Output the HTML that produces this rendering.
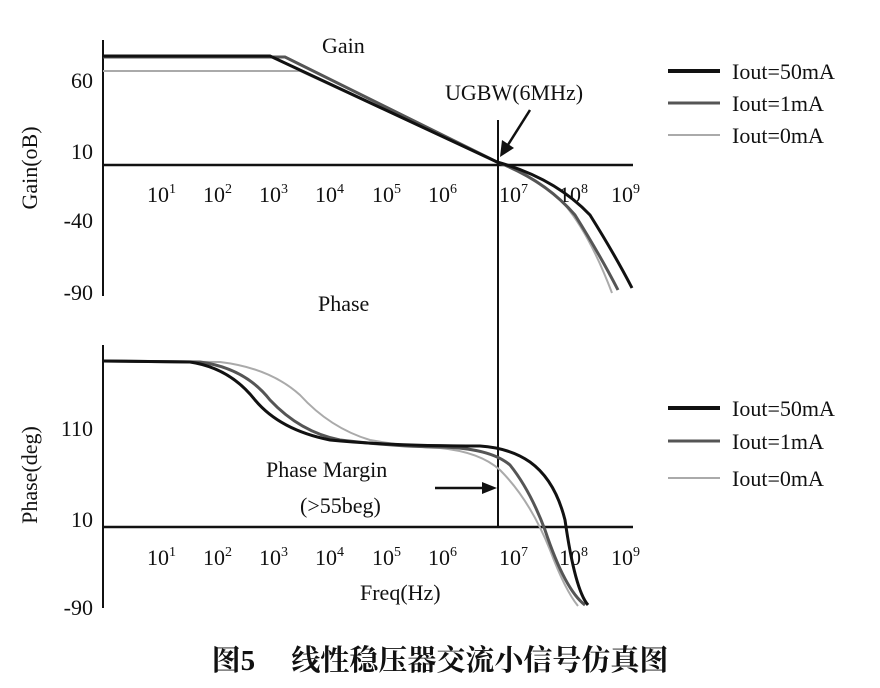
<!DOCTYPE html>
<html><head><meta charset="utf-8"><style>
html,body{margin:0;padding:0;background:#fff;}
svg{display:block;}
text{font-family:"Liberation Serif","Noto Serif CJK SC",serif;fill:#111;}
</style></head><body>
<svg width="880" height="688" viewBox="0 0 880 688" xmlns="http://www.w3.org/2000/svg">
<rect width="880" height="688" fill="#fff"/>
<line x1="103" y1="40" x2="103" y2="296" stroke="#111" stroke-width="2"/>
<line x1="103" y1="165" x2="633" y2="165" stroke="#111" stroke-width="2.5"/>
<g font-size="22" text-anchor="end">
<text x="93" y="88">60</text><text x="93" y="159">10</text><text x="93" y="228">-40</text><text x="93" y="300">-90</text>
</g>
<text transform="translate(37,168) rotate(-90)" font-size="22" text-anchor="middle">Gain(oB)</text>
<text x="322" y="53" font-size="22">Gain</text>
<g font-size="22">
<text x="147" y="202">10<tspan font-size="14" dy="-9">1</tspan></text>
<text x="203" y="202">10<tspan font-size="14" dy="-9">2</tspan></text>
<text x="259" y="202">10<tspan font-size="14" dy="-9">3</tspan></text>
<text x="315" y="202">10<tspan font-size="14" dy="-9">4</tspan></text>
<text x="372" y="202">10<tspan font-size="14" dy="-9">5</tspan></text>
<text x="428" y="202">10<tspan font-size="14" dy="-9">6</tspan></text>
<text x="499" y="202">10<tspan font-size="14" dy="-9">7</tspan></text>
<text x="559" y="202">10<tspan font-size="14" dy="-9">8</tspan></text>
<text x="611" y="202">10<tspan font-size="14" dy="-9">9</tspan></text>
</g>
<path d="M103,71 L300,71 L497,162 Q540,180 565,205 Q590,235 612,293" fill="none" stroke="#aaa" stroke-width="2"/>
<path d="M103,57 L285,57 L497,162 Q545,180 575,215 Q600,255 618,290" fill="none" stroke="#555" stroke-width="3"/>
<path d="M103,56 L270,56 L497,162 Q555,178 590,215 Q615,255 632,288" fill="none" stroke="#111" stroke-width="3"/>
<line x1="498" y1="120" x2="498" y2="526" stroke="#111" stroke-width="2"/>
<text x="445" y="100" font-size="22">UGBW(6MHz)</text>
<line x1="530" y1="110" x2="506" y2="148" stroke="#111" stroke-width="2.5"/>
<polygon points="500,157 502,140 514,148" fill="#111"/>
<line x1="668" y1="71" x2="720" y2="71" stroke="#111" stroke-width="4"/>
<text x="732" y="79" font-size="22">Iout=50mA</text>
<line x1="668" y1="103" x2="720" y2="103" stroke="#555" stroke-width="3"/>
<text x="732" y="111" font-size="22">Iout=1mA</text>
<line x1="668" y1="135" x2="720" y2="135" stroke="#aaa" stroke-width="2"/>
<text x="732" y="143" font-size="22">Iout=0mA</text>

<text x="318" y="311" font-size="22">Phase</text>
<line x1="103" y1="345" x2="103" y2="608" stroke="#111" stroke-width="2"/>
<line x1="103" y1="527" x2="633" y2="527" stroke="#111" stroke-width="2.5"/>
<g font-size="22" text-anchor="end">
<text x="93" y="436">110</text><text x="93" y="527">10</text><text x="93" y="615">-90</text>
</g>
<text transform="translate(37,475) rotate(-90)" font-size="22" text-anchor="middle">Phase(deg)</text>
<g font-size="22">
<text x="147" y="565">10<tspan font-size="14" dy="-9">1</tspan></text>
<text x="203" y="565">10<tspan font-size="14" dy="-9">2</tspan></text>
<text x="259" y="565">10<tspan font-size="14" dy="-9">3</tspan></text>
<text x="315" y="565">10<tspan font-size="14" dy="-9">4</tspan></text>
<text x="372" y="565">10<tspan font-size="14" dy="-9">5</tspan></text>
<text x="428" y="565">10<tspan font-size="14" dy="-9">6</tspan></text>
<text x="499" y="565">10<tspan font-size="14" dy="-9">7</tspan></text>
<text x="559" y="565">10<tspan font-size="14" dy="-9">8</tspan></text>
<text x="611" y="565">10<tspan font-size="14" dy="-9">9</tspan></text>
</g>
<text x="360" y="600" font-size="22">Freq(Hz)</text>
<path d="M103,361 L220,362 Q270,368 300,395 Q330,428 370,440 Q410,447 440,448 Q480,452 500,470 Q530,500 550,550 Q565,590 578,606" fill="none" stroke="#aaa" stroke-width="2"/>
<path d="M103,361 L200,362 Q245,368 270,400 Q300,432 340,440 Q400,447 440,447 Q490,448 510,465 Q530,490 545,530 Q565,590 585,605" fill="none" stroke="#555" stroke-width="3"/>
<path d="M103,361 L190,362 Q230,368 255,400 Q280,430 330,440 Q390,446 480,446 Q510,448 530,462 Q555,480 565,520 Q575,590 588,605" fill="none" stroke="#111" stroke-width="3"/>
<text x="266" y="477" font-size="22">Phase Margin</text>
<text x="300" y="513" font-size="22">(&gt;55beg)</text>
<line x1="435" y1="488" x2="485" y2="488" stroke="#111" stroke-width="2.5"/>
<polygon points="497,488 482,482 482,494" fill="#111"/>
<line x1="668" y1="408" x2="720" y2="408" stroke="#111" stroke-width="4"/>
<text x="732" y="416" font-size="22">Iout=50mA</text>
<line x1="668" y1="441" x2="720" y2="441" stroke="#555" stroke-width="3"/>
<text x="732" y="449" font-size="22">Iout=1mA</text>
<line x1="668" y1="478" x2="720" y2="478" stroke="#aaa" stroke-width="2"/>
<text x="732" y="486" font-size="22">Iout=0mA</text>
<text x="440" y="670" font-size="29" font-weight="bold" text-anchor="middle">图5　 线性稳压器交流小信号仿真图</text>
</svg>
</body></html>
